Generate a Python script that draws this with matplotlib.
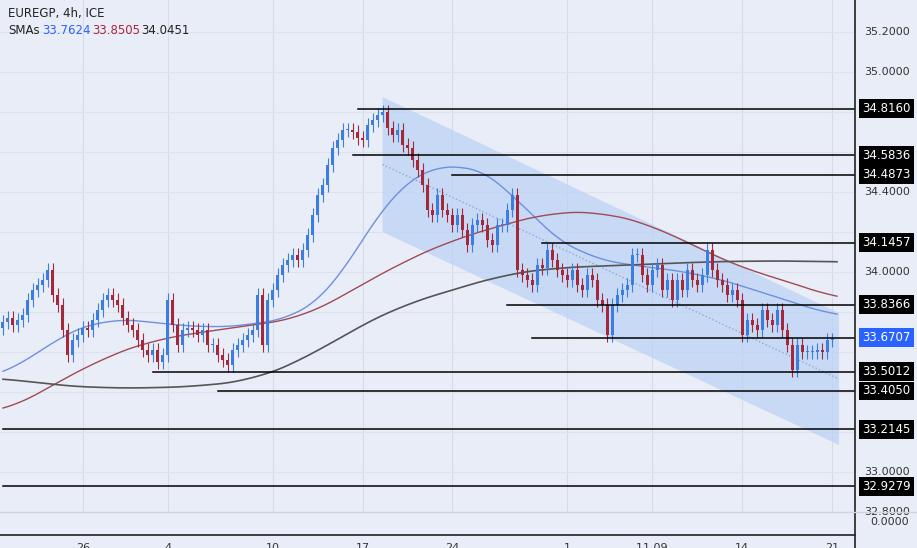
import numpy as np
import matplotlib.pyplot as plt
from matplotlib.patches import Polygon

# closing prices, one per bar
closes = [33.75, 33.77, 33.735, 33.76, 33.785, 33.86, 33.91, 33.935, 33.96, 34.01,
          33.885, 33.835, 33.71, 33.585, 33.66, 33.685, 33.72, 33.71, 33.76, 33.81,
          33.86, 33.885, 33.86, 33.835, 33.77, 33.735, 33.71, 33.66, 33.61, 33.585,
          33.61, 33.55, 33.585, 33.86, 33.735, 33.635, 33.71, 33.72, 33.71, 33.685,
          33.71, 33.635, 33.635, 33.585, 33.56, 33.535, 33.61, 33.635, 33.66, 33.685,
          33.71, 33.885, 33.635, 33.86, 33.91, 33.985, 34.035, 34.06, 34.085, 34.06,
          34.11, 34.185, 34.285, 34.385, 34.435, 34.535, 34.62, 34.66, 34.71, 34.71,
          34.70, 34.67, 34.66, 34.735, 34.76, 34.785, 34.80, 34.72, 34.685, 34.71,
          34.635, 34.62, 34.56, 34.51, 34.435, 34.31, 34.285, 34.385, 34.31, 34.285,
          34.235, 34.285, 34.21, 34.135, 34.235, 34.26, 34.235, 34.16, 34.135, 34.235,
          34.235, 34.31, 34.385, 34.01, 33.985, 33.96, 33.935, 34.035, 34.02, 34.11,
          34.06, 34.01, 33.985, 33.96, 34.01, 33.935, 33.91, 33.985, 33.96, 33.86,
          33.835, 33.685, 33.835, 33.885, 33.91, 33.935, 34.085, 34.085, 33.985, 33.935,
          34.01, 34.035, 33.91, 33.96, 33.86, 33.96, 33.91, 34.01, 33.96, 33.935,
          33.985, 34.11, 34.01, 33.96, 33.935, 33.885, 33.91, 33.86, 33.685, 33.76,
          33.735, 33.71, 33.81, 33.76, 33.735, 33.81, 33.71, 33.635, 33.51, 33.635,
          33.60, 33.60, 33.60, 33.61, 33.60, 33.66, 33.66]
open0 = 33.72

# moving averages sampled at bar positions
sma_idx = [0, 10, 20, 30, 40, 50, 60, 66, 72, 78, 84, 92, 100, 108, 116, 124, 132, 140, 148, 156, 164, 167]
sma50 = [33.47, 33.66, 33.77, 33.75, 33.72, 33.735, 33.785, 33.91, 34.16, 34.41, 34.51,
         34.55, 34.46, 34.21, 34.085, 34.035, 34.02, 33.985, 33.935, 33.86, 33.81, 33.77]
red_idx = [0, 10, 20, 30, 40, 50, 60, 70, 80, 90, 100, 110, 120, 130, 140, 150, 160, 167]
sma100 = [33.295, 33.435, 33.57, 33.66, 33.70, 33.735, 33.77, 33.91, 34.05, 34.16,
          34.235, 34.30, 34.30, 34.235, 34.11, 34.0, 33.935, 33.86]
sma200 = [33.47, 33.435, 33.42, 33.42, 33.43, 33.46, 33.56, 33.71, 33.835, 33.91,
          33.985, 34.02, 34.03, 34.04, 34.05, 34.055, 34.055, 34.05]

# horizontal levels and where they start (bar index)
levels = [34.8160, 34.5836, 34.4873, 34.1457, 33.8366, 33.6707, 33.5012, 33.4050, 33.2145, 32.9279]
level_start = [71, 70, 90, 108, 101, 106, 30, 43, 0, 0]

# regression channel (bar index, upper, lower)
chan_x = [76, 167.4]
chan_up = [34.875, 33.795]
chan_lo = [34.20, 33.135]

x_ticks = [16, 33, 54, 72, 90, 113, 130, 148, 166]
x_labels = ['26', '4', '10', '17', '24', '1', '11 09', '14', '21']

bg = '#e9edf7'
up_c, dn_c = '#3b7de0', '#a3283a'


def smooth(xs, ys):
    # dense linear path, then a light moving average to round the corners
    xd = np.linspace(xs[0], xs[-1], 600)
    yd = np.interp(xd, xs, ys)
    k = 25
    pad = np.concatenate([np.full(k, yd[0]), yd, np.full(k, yd[-1])])
    ys2 = np.convolve(pad, np.ones(2 * k + 1) / (2 * k + 1), mode='same')[k:-k]
    return xd, ys2


fig = plt.figure(figsize=(9.17, 5.48), dpi=100, facecolor=bg)
ax = fig.add_axes([0, 1 - 512 / 548, 855 / 917, 512 / 548], facecolor=bg)
ax.set_xlim(-0.6, 170.6)
ax.set_ylim(32.80, 35.36)

for xt in x_ticks:
    ax.axvline(xt, color='#d6dbe7', lw=0.8, zorder=0)
for yt in np.arange(32.8, 35.3, 0.2):
    ax.axhline(yt, color='#dde2ec', lw=0.8, zorder=0)

poly = Polygon([[chan_x[0], chan_up[0]], [chan_x[1], chan_up[1]],
                [chan_x[1], chan_lo[1]], [chan_x[0], chan_lo[0]]],
               closed=True, facecolor='#b9d1f5', alpha=0.7, edgecolor='none', zorder=1)
ax.add_patch(poly)
ax.plot(chan_x, [(chan_up[0] + chan_lo[0]) / 2, (chan_up[1] + chan_lo[1]) / 2],
        ls=':', color='#8fa6d8', lw=1, zorder=2)

opens = [open0] + closes[:-1]
for i, (o, c) in enumerate(zip(opens, closes)):
    col = up_c if c >= o else dn_c
    ax.vlines(i, min(o, c) - 0.035, max(o, c) + 0.035, color=col, lw=0.8, zorder=4)
    ax.bar(i, max(abs(c - o), 0.004), bottom=min(o, c), width=0.6, color=col, zorder=4)

ax.plot(*smooth(sma_idx, sma50), color='#6f8fe0', lw=1, zorder=3)
ax.plot(*smooth(red_idx, sma100), color='#a04a55', lw=1, zorder=3)
ax.plot(*smooth(red_idx, sma200), color='#555555', lw=1.2, zorder=3)

for lv, st in zip(levels, level_start):
    ax.plot([st, 170.6], [lv, lv], color='black', lw=1.1, zorder=5)

ax.set_xticks([])
ax.set_yticks([])
for s in ax.spines.values():
    s.set_visible(False)

# right price scale
ax2 = fig.add_axes([855 / 917, 1 - 512 / 548, 62 / 917, 512 / 548], facecolor=bg)
ax2.set_ylim(ax.get_ylim())
ax2.set_xlim(0, 1)
ax2.axis('off')
fig.add_artist(plt.Line2D([855 / 917] * 2, [0, 1], color='#222222', lw=1.2))
fig.add_artist(plt.Line2D([0, 1], [1 - 512 / 548] * 2, color='#cfd4de', lw=1))
fig.add_artist(plt.Line2D([0, 855 / 917], [1 - 535 / 548] * 2, color='#222222', lw=1.2))
for yt in [35.2, 35.0, 34.4, 34.0, 33.0, 32.8]:
    ax2.text(0.15, yt, f'{yt:.4f}', fontsize=8, color='#333333', va='center', clip_on=False)
for lv in levels:
    fc = '#2962ff' if lv == 33.6707 else 'black'
    ax2.text(0.12, lv, f'{lv:.4f}', fontsize=8.5, color='white', va='center',
             bbox=dict(boxstyle='square,pad=0.25', fc=fc, ec='none'))
fig.text(870 / 917, 1 - 522 / 548, '0.0000', fontsize=8, color='#333333', va='center')

for xt, lab in zip(x_ticks, x_labels):
    xf = ax.transData.transform((xt, 33))[0] / fig.bbox.width
    fig.text(xf, 1 - 543 / 548, lab, fontsize=8, color='#333333', ha='center', va='top')

fig.text(8 / 917, 1 - 14 / 548, 'EUREGP, 4h, ICE', fontsize=8.5, color='#222222', va='center')
fig.text(8 / 917, 1 - 31 / 548, 'SMAs', fontsize=8.5, color='#222222', va='center')
fig.text(42 / 917, 1 - 31 / 548, '33.7624', fontsize=8.5, color='#2962ff', va='center')
fig.text(92 / 917, 1 - 31 / 548, '33.8505', fontsize=8.5, color='#a3283a', va='center')
fig.text(141 / 917, 1 - 31 / 548, '34.0451', fontsize=8.5, color='#222222', va='center')

fig.savefig('out.png', dpi=100, facecolor=bg)
